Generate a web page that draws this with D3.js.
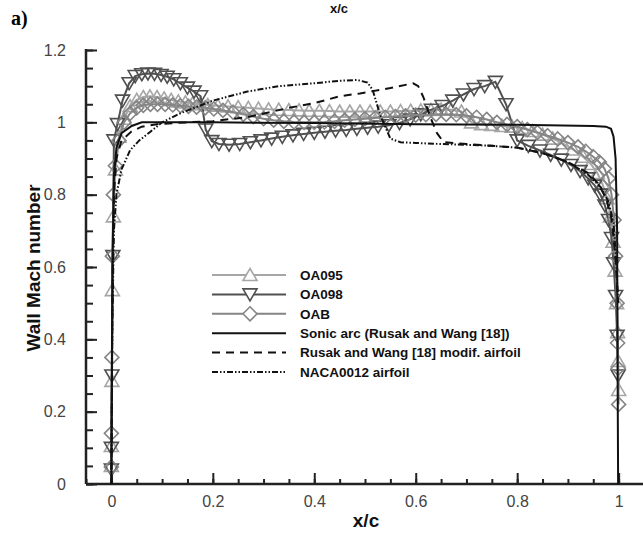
<!DOCTYPE html>
<html><head><meta charset="utf-8">
<script src="https://cdn.jsdelivr.net/npm/d3@7/dist/d3.min.js"></script>
<style>body{margin:0;background:#fff;}svg{display:block;}</style>
</head><body><svg id="c" width="643" height="534"></svg>
<script>
const xTicks = [0, 0.2, 0.4, 0.6, 0.8, 1];
const yTicks = [0, 0.2, 0.4, 0.6, 0.8, 1, 1.2];
const xTickLabels = ["0", "0.2", "0.4", "0.6", "0.8", "1"];
const yTickLabels = ["0", "0.2", "0.4", "0.6", "0.8", "1", "1.2"];
const seriesNames = ["OA095", "OA098", "OAB", "Sonic arc (Rusak and Wang [18])", "Rusak and Wang [18] modif. airfoil", "NACA0012 airfoil"];

const oa095X = [0, 0, 0.001, 0.002, 0.004, 0.008, 0.015, 0.025, 0.037, 0.05, 0.063, 0.076, 0.09, 0.104, 0.118, 0.132, 0.146, 0.16, 0.175, 0.19, 0.21, 0.23, 0.25, 0.27, 0.29, 0.31, 0.33, 0.35, 0.37, 0.39, 0.41, 0.43, 0.45, 0.47, 0.49, 0.51, 0.53, 0.55, 0.57, 0.59, 0.61, 0.63, 0.65, 0.67, 0.69, 0.71, 0.73, 0.75, 0.77, 0.79, 0.81, 0.83, 0.85, 0.87, 0.89, 0.91, 0.93, 0.945, 0.958, 0.968, 0.977, 0.984, 0.989, 0.993, 0.996, 0.998, 0.999, 1.0];
const oa095M = [0.05, 0.105, 0.285, 0.536, 0.74, 0.87, 0.96, 1.01, 1.045, 1.062, 1.07, 1.072, 1.07, 1.066, 1.062, 1.058, 1.055, 1.052, 1.05, 1.048, 1.046, 1.044, 1.042, 1.04, 1.038, 1.036, 1.035, 1.034, 1.033, 1.032, 1.032, 1.031, 1.03, 1.03, 1.03, 1.03, 1.03, 1.03, 1.031, 1.032, 1.033, 1.034, 1.035, 1.035, 1.03, 1.0, 0.995, 0.993, 0.99, 0.988, 0.984, 0.976, 0.966, 0.955, 0.942, 0.925, 0.905, 0.885, 0.86, 0.83, 0.79, 0.74, 0.67, 0.59, 0.5, 0.42, 0.34, 0.26];

const oa098X = [0, 0, 0.001, 0.003, 0.005, 0.012, 0.022, 0.035, 0.047, 0.06, 0.072, 0.085, 0.098, 0.11, 0.123, 0.136, 0.15, 0.163, 0.176, 0.186, 0.198, 0.212, 0.232, 0.253, 0.274, 0.295, 0.316, 0.337, 0.358, 0.379, 0.4, 0.421, 0.442, 0.463, 0.484, 0.505, 0.526, 0.547, 0.568, 0.589, 0.61, 0.631, 0.652, 0.673, 0.694, 0.715, 0.736, 0.757, 0.778, 0.80, 0.822, 0.845, 0.866, 0.887, 0.906, 0.924, 0.94, 0.953, 0.964, 0.973, 0.98, 0.986, 0.99, 0.994, 0.997, 0.999];
const oa098M = [0.04, 0.10, 0.30, 0.63, 0.95, 0.995, 1.06, 1.108, 1.128, 1.133, 1.135, 1.134, 1.131, 1.126, 1.119, 1.108, 1.096, 1.085, 1.072, 0.98, 0.948, 0.94, 0.938, 0.94, 0.945, 0.95, 0.955, 0.96, 0.964, 0.968, 0.971, 0.974, 0.977, 0.979, 0.982, 0.985, 0.988, 0.992, 0.998, 1.008, 1.022, 1.035, 1.045, 1.06, 1.077, 1.092, 1.1, 1.112, 1.05, 0.95, 0.935, 0.922, 0.91, 0.897, 0.882, 0.865, 0.845, 0.825, 0.80, 0.77, 0.73, 0.68, 0.61, 0.52, 0.41, 0.30];

const oabX = [0, 0, 0.001, 0.002, 0.004, 0.008, 0.015, 0.025, 0.037, 0.05, 0.063, 0.077, 0.091, 0.106, 0.121, 0.136, 0.152, 0.168, 0.185, 0.202, 0.22, 0.24, 0.26, 0.28, 0.3, 0.32, 0.34, 0.36, 0.38, 0.4, 0.42, 0.44, 0.46, 0.48, 0.5, 0.52, 0.54, 0.56, 0.58, 0.6, 0.62, 0.64, 0.66, 0.68, 0.7, 0.72, 0.74, 0.76, 0.78, 0.8, 0.82, 0.84, 0.86, 0.88, 0.9, 0.92, 0.935, 0.95, 0.962, 0.972, 0.98, 0.986, 0.991, 0.994, 0.997, 0.998, 0.999, 1.0];
const oabM = [0.047, 0.14, 0.35, 0.63, 0.80, 0.88, 0.95, 1.0, 1.025, 1.04, 1.047, 1.05, 1.05, 1.05, 1.048, 1.046, 1.044, 1.042, 1.04, 1.037, 1.033, 1.028, 1.022, 1.016, 1.01, 1.006, 1.003, 1.001, 1.0, 1.0, 1.001, 1.003, 1.006, 1.008, 1.01, 1.012, 1.014, 1.016, 1.018, 1.02, 1.021, 1.022, 1.022, 1.021, 1.018, 1.014, 1.008, 1.0, 0.994, 0.988, 0.98, 0.972, 0.963, 0.954, 0.944, 0.932, 0.92, 0.905, 0.89, 0.872, 0.845, 0.80, 0.73, 0.63, 0.5, 0.39, 0.32, 0.22];

const sonicX = [0, 0.002, 0.005, 0.01, 0.02, 0.04, 0.06, 0.2, 0.4, 0.6, 0.8, 0.95, 0.975, 0.985, 0.99, 0.994, 0.997, 0.998, 0.999];
const sonicM = [0, 0.6, 0.85, 0.93, 0.97, 0.99, 1.0, 1.0, 0.998, 0.995, 0.993, 0.99, 0.988, 0.982, 0.96, 0.9, 0.7, 0.3, 0];

const rusakX = [0, 0.002, 0.005, 0.01, 0.02, 0.04, 0.06, 0.09, 0.15, 0.2, 0.27, 0.35, 0.4, 0.45, 0.49, 0.55, 0.595, 0.605, 0.615, 0.63, 0.642, 0.655, 0.7, 0.75, 0.8, 0.85, 0.9, 0.94, 0.96, 0.975, 0.985, 0.99, 0.995, 0.999];
const rusakM = [0, 0.5, 0.8, 0.9, 0.95, 0.975, 0.988, 0.995, 1.0, 1.003, 1.015, 1.04, 1.053, 1.072, 1.08, 1.095, 1.108, 1.1, 1.07, 1.01, 0.97, 0.945, 0.94, 0.935, 0.93, 0.915, 0.89, 0.86, 0.83, 0.79, 0.74, 0.68, 0.6, 0.5];

const nacaX = [0, 0.002, 0.005, 0.01, 0.02, 0.037, 0.055, 0.077, 0.1, 0.136, 0.2, 0.268, 0.33, 0.4, 0.45, 0.485, 0.505, 0.515, 0.53, 0.55, 0.57, 0.6, 0.65, 0.7, 0.75, 0.8, 0.85, 0.9, 0.94, 0.965, 0.98, 0.99, 0.995, 0.999];
const nacaM = [0, 0.45, 0.7, 0.8, 0.87, 0.923, 0.95, 0.974, 1.0, 1.025, 1.06, 1.085, 1.1, 1.108, 1.115, 1.117, 1.11, 1.09, 1.02, 0.955, 0.945, 0.943, 0.94, 0.938, 0.935, 0.93, 0.915, 0.89, 0.855, 0.82, 0.78, 0.72, 0.62, 0.5];

const svg = d3.select("#c");
const x = d3.scaleLinear().domain([-0.05, 1.05]).range([86, 644]);
const y = d3.scaleLinear().domain([0, 1.2]).range([484, 50]);

const axisColor = "#222";
const labelColor = "#444";

const minorX = d3.range(-0.05, 1.051, 0.05).map(v => +v.toFixed(2));
const minorY = d3.range(0, 1.201, 0.05).map(v => +v.toFixed(2));

const gx = svg.append("g").attr("transform", `translate(0,${y(0)})`);
gx.call(d3.axisBottom(x).tickValues(minorX).tickSize(-5).tickFormat(""));
gx.call(g => g.select(".domain").remove());
const gx2 = svg.append("g").attr("transform", `translate(0,${y(0)})`);
gx2.call(d3.axisBottom(x).tickValues(xTicks).tickSize(-11).tickPadding(20).tickFormat((d, i) => xTickLabels[i]));
gx2.select(".domain").remove();

const gy = svg.append("g").attr("transform", `translate(${x(-0.05)},0)`);
gy.call(d3.axisLeft(y).tickValues(minorY).tickSize(-7).tickFormat(""));
gy.select(".domain").remove();
const gy2 = svg.append("g").attr("transform", `translate(${x(-0.05)},0)`);
gy2.call(d3.axisLeft(y).tickValues(yTicks).tickSize(-11).tickPadding(20).tickFormat((d, i) => yTickLabels[i]));
gy2.select(".domain").remove();
svg.selectAll("g .tick line").attr("stroke", axisColor).attr("stroke-width", 2);
svg.selectAll("g .tick text").attr("fill", labelColor).attr("font-family", "Liberation Sans, Arial, sans-serif").attr("font-size", 16);
gx2.selectAll(".tick text").attr("dy", "0.2em");

svg.append("line").attr("x1", x(-0.05)).attr("x2", 643).attr("y1", y(0)).attr("y2", y(0)).attr("stroke", axisColor).attr("stroke-width", 2.5);
svg.append("line").attr("x1", x(-0.05)).attr("x2", x(-0.05)).attr("y1", y(0)).attr("y2", y(1.2) - 1).attr("stroke", axisColor).attr("stroke-width", 2.5);

const line = d3.line().x(d => x(d[0])).y(d => y(d[1]));
const zip = (a, b) => a.map((v, i) => [v, b[i]]);

const triUp = "M0,-6.5L7,5.5L-7,5.5Z";
const triDown = "M0,6.5L7,-5.5L-7,-5.5Z";
const diamond = "M0,-7L7,0L0,7L-7,0Z";

const markerSeries = [
  {name: seriesNames[0], xs: oa095X, ms: oa095M, color: "#a6a6a6", sym: triUp},
  {name: seriesNames[1], xs: oa098X, ms: oa098M, color: "#505050", sym: triDown},
  {name: seriesNames[2], xs: oabX, ms: oabM, color: "#858585", sym: diamond}
];
const lineSeries = [
  {name: seriesNames[3], xs: sonicX, ms: sonicM, dash: null},
  {name: seriesNames[4], xs: rusakX, ms: rusakM, dash: "8,6"},
  {name: seriesNames[5], xs: nacaX, ms: nacaM, dash: "6,2,1.5,2,1.5,2"}
];

markerSeries.forEach(s => {
  const pts = zip(s.xs, s.ms);
  svg.append("path").attr("d", line(pts)).attr("fill", "none").attr("stroke", s.color).attr("stroke-width", 2);
  svg.append("g").selectAll("path").data(pts).join("path")
    .attr("transform", d => `translate(${x(d[0])},${y(d[1])})`)
    .attr("d", s.sym).attr("fill", "none").attr("stroke", s.color).attr("stroke-width", 1.6);
});
lineSeries.forEach(s => {
  const pts = zip(s.xs, s.ms);
  const p = svg.append("path").attr("d", line(pts)).attr("fill", "none").attr("stroke", "#111").attr("stroke-width", 2);
  if (s.dash) p.attr("stroke-dasharray", s.dash);
});

const lg = svg.append("g");
const rowY = i => 275 + i * 19.4;
markerSeries.forEach((s, i) => {
  lg.append("line").attr("x1", 212).attr("x2", 286).attr("y1", rowY(i)).attr("y2", rowY(i)).attr("stroke", s.color).attr("stroke-width", 2);
  lg.append("path").attr("transform", `translate(250,${rowY(i)})`).attr("d", s.sym).attr("fill", "#fff").attr("stroke", s.color).attr("stroke-width", 1.6);
});
lineSeries.forEach((s, j) => {
  const i = j + 3;
  const l = lg.append("line").attr("x1", 212).attr("x2", 286).attr("y1", rowY(i)).attr("y2", rowY(i)).attr("stroke", "#111").attr("stroke-width", 2);
  if (s.dash) l.attr("stroke-dasharray", s.dash);
});
seriesNames.forEach((n, i) => {
  lg.append("text").attr("x", 300).attr("y", rowY(i)).attr("dy", "0.36em")
    .attr("font-family", "Liberation Sans, Arial, sans-serif").attr("font-weight", "bold").attr("font-size", 13.5).attr("fill", "#111").text(n);
});

svg.append("text").attr("x", 366).attr("y", 527).attr("text-anchor", "middle")
  .attr("font-family", "Liberation Sans, Arial, sans-serif").attr("font-weight", "bold").attr("font-size", 19).attr("fill", "#111").text("x/c");
svg.append("text").attr("x", 339).attr("y", 13).attr("text-anchor", "middle")
  .attr("font-family", "Liberation Sans, Arial, sans-serif").attr("font-weight", "bold").attr("font-size", 13).attr("fill", "#111").text("x/c");
svg.append("text").attr("transform", "translate(40,268) rotate(-90)").attr("text-anchor", "middle")
  .attr("font-family", "Liberation Sans, Arial, sans-serif").attr("font-weight", "bold").attr("font-size", 19).attr("fill", "#111").text("Wall Mach number");
svg.append("text").attr("x", 11).attr("y", 25)
  .attr("font-family", "Liberation Serif, Times New Roman, serif").attr("font-weight", "bold").attr("font-size", 20).attr("fill", "#000").text("a)");
</script></body></html>
